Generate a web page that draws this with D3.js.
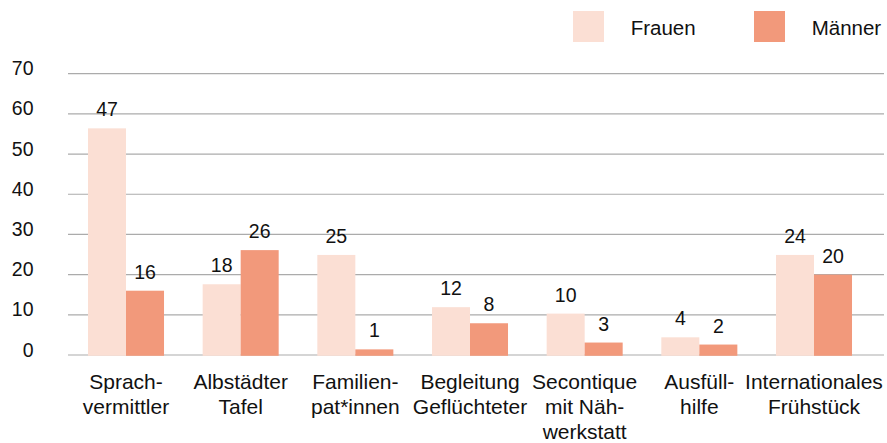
<!DOCTYPE html>
<html>
<head>
<meta charset="utf-8">
<script src="https://cdn.jsdelivr.net/npm/d3@7"></script>
<style>
  html, body { margin: 0; padding: 0; background: #ffffff; }
  svg { display: block; font-family: "Helvetica Neue", Helvetica, Arial, "Liberation Sans", sans-serif; }
</style>
</head>
<body>
<svg id="chart" width="887" height="443"></svg>
<script>
// ---- data ----
const categories = [
  "Sprach-\nvermittler",
  "Albstädter\nTafel",
  "Familien-\npat*innen",
  "Begleitung\nGeflüchteter",
  "Secontique\nmit Näh-\nwerkstatt",
  "Ausfüll-\nhilfe",
  "Internationales\nFrühstück"
];
const seriesNames = ["Frauen", "Männer"];
// bar heights as drawn in the reference
const frauenValues = [56.4, 17.6, 24.9, 11.9, 10.3, 4.4, 24.9];
const maennerValues = [16, 26.1, 1.4, 7.9, 3.1, 2.6, 20];
// value labels as printed in the reference
const frauenLabels = ["47", "18", "25", "12", "10", "4", "24"];
const maennerLabels = ["16", "26", "1", "8", "3", "2", "20"];
const yTicks = [0, 10, 20, 30, 40, 50, 60, 70];

const colors = { "Frauen": "#FBDFD4", "Männer": "#F2997B" };

// ---- layout ----
const svg = d3.select("#chart");
const gridLeft = 68, gridRight = 884;

const x0 = d3.scaleBand()
  .domain(categories)
  .range([68.67, 871.33])
  .paddingInner(0.337)
  .paddingOuter(0.1685);

const x1 = d3.scaleBand()
  .domain(seriesNames)
  .range([0, x0.bandwidth()])
  .padding(0);

const y = d3.scaleLinear().domain([0, 70]).range([355, 73.7]);

// gridlines
svg.append("g").selectAll("line")
  .data(yTicks)
  .join("line")
  .attr("x1", gridLeft).attr("x2", gridRight)
  .attr("y1", d => y(d)).attr("y2", d => y(d))
  .attr("stroke", "#ababab")
  .attr("stroke-width", 1.2);

// y tick labels
svg.append("g").selectAll("text")
  .data(yTicks)
  .join("text")
  .attr("x", 33.5)
  .attr("y", d => y(d) + 1.5)
  .attr("text-anchor", "end")
  .attr("font-size", 19.5)
  .attr("fill", "#111")
  .text(d => d);

const rows = categories.map((c, i) => ({
  cat: c,
  vals: [
    { s: "Frauen", v: frauenValues[i], label: frauenLabels[i] },
    { s: "Männer", v: maennerValues[i], label: maennerLabels[i] }
  ]
}));

const groups = svg.append("g").selectAll("g")
  .data(rows)
  .join("g")
  .attr("transform", d => `translate(${x0(d.cat)},0)`);

groups.selectAll("rect")
  .data(d => d.vals)
  .join("rect")
  .attr("x", d => x1(d.s))
  .attr("width", x1.bandwidth())
  .attr("y", d => y(d.v))
  .attr("height", d => y(0) - y(d.v) + 0.8)
  .attr("fill", d => colors[d.s]);

groups.selectAll("text.val")
  .data(d => d.vals)
  .join("text")
  .attr("class", "val")
  .attr("x", d => x1(d.s) + x1.bandwidth() / 2)
  .attr("y", d => y(d.v) - 12)
  .attr("text-anchor", "middle")
  .attr("font-size", 19.5)
  .attr("fill", "#111")
  .text(d => d.label);

// category labels
const catG = svg.append("g").selectAll("text")
  .data(categories)
  .join("text")
  .attr("x", d => x0(d) + x0.bandwidth() / 2)
  .attr("y", 389)
  .attr("text-anchor", "middle")
  .attr("font-size", 21)
  .attr("fill", "#111");

catG.selectAll("tspan")
  .data(d => d.split("\n").map((t, i) => ({ t, i, c: d })))
  .join("tspan")
  .attr("x", d => x0(d.c) + x0.bandwidth() / 2)
  .attr("y", d => 389 + d.i * 24.8)
  .text(d => d.t);

// legend
const legendX = { "Frauen": 573, "Männer": 754 };
const legend = svg.append("g").selectAll("g")
  .data(seriesNames)
  .join("g")
  .attr("transform", d => `translate(${legendX[d]},11)`);

legend.append("rect")
  .attr("width", 31).attr("height", 31)
  .attr("fill", d => colors[d]);

legend.append("text")
  .attr("x", 57.7)
  .attr("y", 24)
  .attr("font-size", 20.5)
  .attr("fill", "#111")
  .text(d => d);
</script>
</body>
</html>
